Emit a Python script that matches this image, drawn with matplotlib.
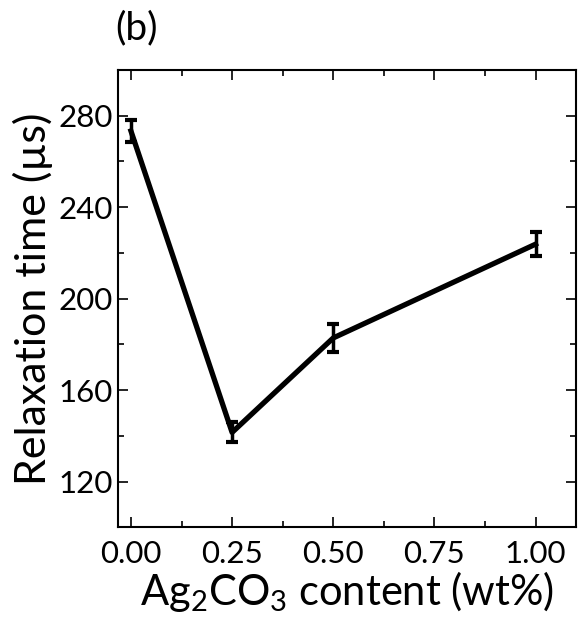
import matplotlib
matplotlib.use("Agg")
import matplotlib.pyplot as plt
from matplotlib.ticker import MultipleLocator

plt.rcParams['font.family'] = ['Lato', 'DejaVu Sans']
plt.rcParams['mathtext.default'] = 'regular'

# Ag2CO3 content vs relaxation time
content = [0.0, 0.25, 0.5, 1.0]
relax_time = [273.3, 141.5, 182.8, 223.8]
relax_err = [5.0, 4.4, 6.1, 5.3]

fig = plt.figure(figsize=(5.85, 6.3), dpi=100)
ax = fig.add_axes([0.2017, 0.163, 0.7829, 0.726])

ax.errorbar(content, relax_time, yerr=relax_err, color='black', lw=3.8,
            elinewidth=2.5, capsize=4.5, capthick=3.0)

ax.set_xlim(-0.032, 1.1)
ax.set_ylim(100, 300)
ax.xaxis.set_major_locator(MultipleLocator(0.25))
ax.xaxis.set_minor_locator(MultipleLocator(0.125))
ax.yaxis.set_minor_locator(MultipleLocator(20))
ax.set_yticks([120, 160, 200, 240, 280])
ax.xaxis.set_major_formatter(matplotlib.ticker.FormatStrFormatter('%.2f'))

ax.tick_params(which='both', direction='in', top=True, right=True, labelsize=22.5, width=1.2)
ax.tick_params(which='major', length=7)
ax.tick_params(which='minor', length=4)
ax.tick_params(axis='x', which='major', pad=9)
for s in ax.spines.values():
    s.set_linewidth(1.5)

ax.set_xlabel(r'Ag$_2$CO$_3$ content (wt%)', fontsize=30, labelpad=1)
ax.set_ylabel('Relaxation time (µs)', fontsize=31, labelpad=4)
fig.text(0.234, 0.955, '(b)', fontsize=28, ha='center', va='center')

fig.savefig('out.png', dpi=100)
